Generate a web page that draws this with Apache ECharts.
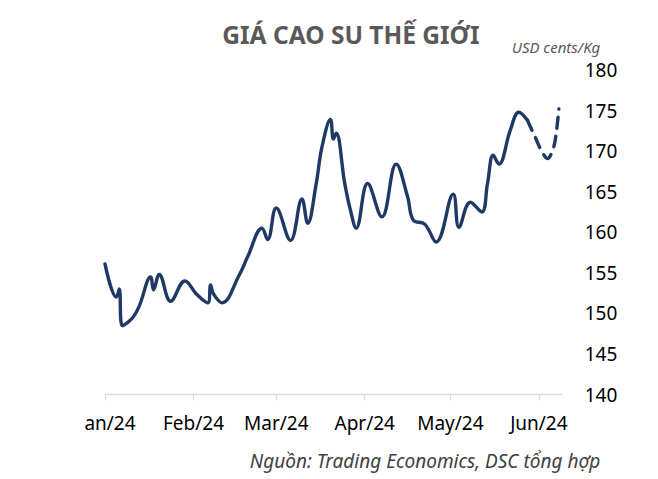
<!DOCTYPE html>
<html>
<head>
<meta charset="utf-8">
<script src="https://cdn.jsdelivr.net/npm/echarts@6/dist/echarts.min.js"></script>
<style>
html,body{margin:0;padding:0;background:#fff;}
#chart{width:658px;height:479px;}
</style>
</head>
<body>
<div id="chart"></div>
<script>
// ---- data ----
const solidDates = ['2024-01-01','2024-01-05','2024-01-06','2024-01-07','2024-01-09','2024-01-11','2024-01-13','2024-01-17','2024-01-18','2024-01-20','2024-01-24','2024-01-29','2024-02-02','2024-02-06','2024-02-07','2024-02-08','2024-02-11','2024-02-17','2024-02-20','2024-02-25','2024-02-27','2024-03-01','2024-03-06','2024-03-10','2024-03-12','2024-03-15','2024-03-17','2024-03-20','2024-03-21','2024-03-22','2024-03-25','2024-03-27','2024-03-29','2024-04-02','2024-04-07','2024-04-12','2024-04-16','2024-04-18','2024-04-22','2024-04-26','2024-05-02','2024-05-04','2024-05-08','2024-05-12','2024-05-14','2024-05-16','2024-05-18','2024-05-22','2024-05-25','2024-05-28'];
const solidValues = [156.1,152.0,153.0,148.5,148.9,149.6,150.9,154.5,152.9,154.8,151.5,154.0,152.4,151.3,153.5,152.4,151.3,154.7,157.0,160.5,159.1,163.0,159.0,164.1,161.1,166.0,170.5,173.9,171.5,172.2,166.0,162.7,160.5,166.0,161.9,168.4,164.4,161.5,161.0,158.8,164.7,160.6,163.7,162.5,166.0,169.5,168.4,172.6,174.8,173.8];
const forecastDates = ['2024-05-28','2024-05-31','2024-06-02','2024-06-04','2024-06-06','2024-06-07','2024-06-08'];
const forecastValues = [173.8,171.5,170.0,169.1,170.3,172.0,175.2];
const monthTickDates = ['2024-01-01','2024-02-01','2024-03-01','2024-04-01','2024-05-01','2024-06-01'];
const monthTickLabels = ['an/24','Feb/24','Mar/24','Apr/24','May/24','Jun/24'];
const yTicks = [140,145,150,155,160,165,170,175,180];
const titleText = 'GIÁ CAO SU THẾ GIỚI';
const unitText = 'USD cents/Kg';
const sourceText = 'Nguồn: Trading Economics, DSC tổng hợp';
const axisEndDate = '2024-06-09';

// ---- helpers ----
const base = Date.UTC(2024,0,1);
function dayOf(s){ const p = s.split('-').map(Number); return (Date.UTC(p[0],p[1]-1,p[2]) - base)/86400000; }
const tickDays = monthTickDates.map(dayOf);
const FONT = '"Noto Sans", "Open Sans", sans-serif';

const chart = echarts.init(document.getElementById('chart'), null, {renderer:'svg'});
chart.setOption({
  animation:false,
  backgroundColor:'#ffffff',
  grid:{left:105, right:96.3, top:70, bottom:479-394.5},
  xAxis:{
    type:'value', min:0, max:dayOf(axisEndDate),
    axisLine:{show:true, lineStyle:{color:'#D9D9D9', width:1.3}},
    axisTick:{show:true, customValues:tickDays, length:6, lineStyle:{color:'#D9D9D9', width:1.3}},
    splitLine:{show:false},
    axisLabel:{
      customValues:tickDays, margin:19, color:'#000', fontSize:19, fontFamily:FONT,
      formatter:function(v){ const i = tickDays.indexOf(v); if(i===0) return '{first|'+monthTickLabels[0]+'}'; return monthTickLabels[i]; },
      rich:{first:{padding:[0,0,0,10], color:'#000', fontSize:19, fontFamily:FONT}}
    }
  },
  yAxis:{
    type:'value', position:'right', min:yTicks[0], max:yTicks[yTicks.length-1], interval:5,
    axisLine:{show:false}, axisTick:{show:false}, splitLine:{show:false},
    axisLabel:{margin:23, color:'#000', fontSize:19, fontFamily:FONT}
  },
  series:[
    {type:'line', data:solidDates.map((d,i)=>[dayOf(d), solidValues[i]]), smooth:0.4, showSymbol:false,
     lineStyle:{color:'#1F3864', width:3.4, cap:'round', join:'round'}},
    {type:'line', data:forecastDates.map((d,i)=>[dayOf(d), forecastValues[i]]), smooth:0.4, showSymbol:false,
     lineStyle:{color:'#1F3864', width:3.4, type:[11,8], cap:'round'}}
  ],
  graphic:[
    {type:'text', style:{text:titleText, x:351, y:34, textAlign:'center', textVerticalAlign:'middle', font:'bold 24.5px '+FONT, fill:'#595959'}},
    {type:'text', style:{text:unitText, x:556, y:47, textAlign:'center', textVerticalAlign:'middle', font:'italic 15px '+FONT, fill:'#595959'}},
    {type:'text', style:{text:sourceText, x:425, y:461, textAlign:'center', textVerticalAlign:'middle', font:'italic 19px '+FONT, fill:'#404040'}}
  ]
});
</script>
</body>
</html>
